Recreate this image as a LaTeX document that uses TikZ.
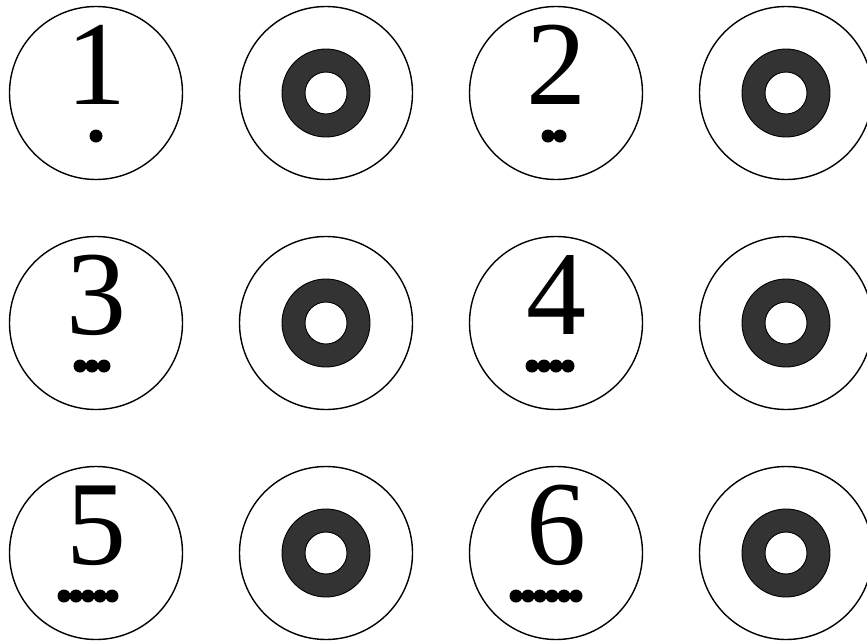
\documentclass[tikz,border=0pt]{standalone}
\usepackage{fontspec}
\setmainfont{Liberation Serif}
\usepackage{xcolor}
\usepackage{tikz}
\definecolor{ringgray}{HTML}{333333}

\begin{document}
\begin{tikzpicture}
[plateDecorate/.style={shape=circle,minimum size=173pt,inner sep=0pt,draw=black,line width=1.4pt},%
    digitDecorate/.style={inner sep=0pt,anchor=base,font=\fontsize{120}{120}\selectfont},%
    dotDecorate/.style={shape=circle,minimum size=13pt,inner sep=0pt,fill=black},%
    ringDecorate/.style={fill=ringgray,draw=black,line width=0.9pt,even odd rule},%
    x=1pt,y=-1pt]
    \useasboundingbox (0,0) rectangle (867,643);
    %% numbered plates
    \foreach \nodename/\x/\y/\n in {one/96/93/1, two/556/93/2, three/96/323/3, four/556/323/4, five/96/553/5, six/556/553/6}
    {
        \node (\nodename) at (\x,\y) [plateDecorate] {};
        \node (\nodename digit) at (\x,{\y+11}) [digitDecorate] {\n};
        \foreach \k in {1,...,\n}
        {
            \node (\nodename dot\k) at ({\x-8*(\n-1)+12*(\k-1)},{\y+43}) [dotDecorate] {};
        }
    }
    %% ring plates
    \foreach \nodename/\x/\y in {oneRing/326/93, twoRing/786/93, threeRing/326/323, fourRing/786/323, fiveRing/326/553, sixRing/786/553}
    {
        \node (\nodename) at (\x,\y) [plateDecorate] {};
        \path[ringDecorate] (\nodename) circle (44pt) (\nodename) circle (21pt);
    }
\end{tikzpicture}
\end{document}
